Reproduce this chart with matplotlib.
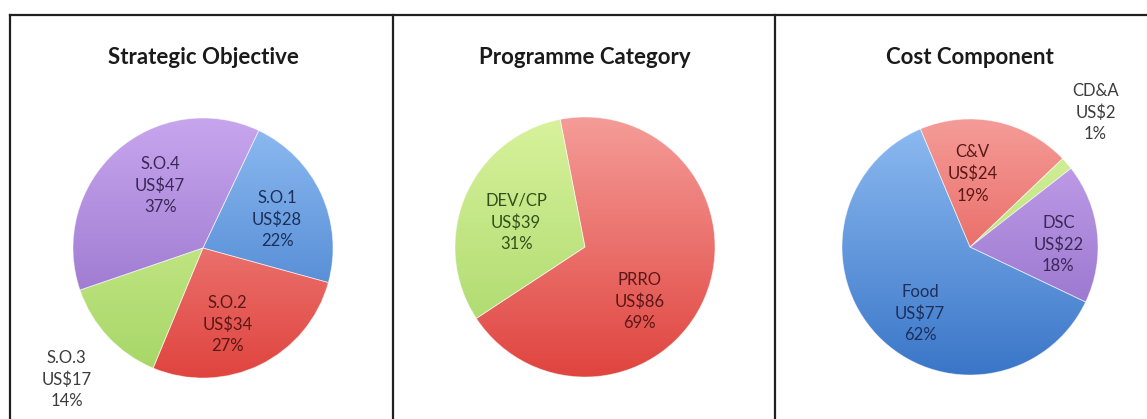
import numpy as np
import matplotlib
matplotlib.use("Agg")
import matplotlib.pyplot as plt
from matplotlib.colors import LinearSegmentedColormap
from matplotlib.lines import Line2D

# ---- data -------------------------------------------------------------
so_labels = ["S.O.1", "S.O.2", "S.O.3", "S.O.4"]
so_values = [28, 34, 17, 47]
so_pct = [22, 27, 14, 37]

pc_labels = ["PRRO", "DEV/CP"]
pc_values = [86, 39]
pc_pct = [69, 31]

cc_labels = ["C&V", "CD&A", "DSC", "Food"]
cc_values = [24, 2, 22, 77]
cc_pct = [19, 1, 18, 62]

titles = ["Strategic Objective", "Programme Category", "Cost Component"]

# ---- styling ----------------------------------------------------------
W, H = 1147, 419
FONT = ["Lato", "DejaVu Sans"]
plt.rcParams["font.family"] = FONT

# (top, bottom) gradient colours per hue
GRAD = {
    "blue": ("#8fbcf2", "#3a76c8"),
    "red": ("#f59c98", "#e0443f"),
    "green": ("#d8f29c", "#a6d666"),
    "purple": ("#c8a6ee", "#8c68c4"),
}
TXT = {
    "blue": "#1d2f5a",
    "red": "#5a1816",
    "green": "#34501a",
    "purple": "#3a2858",
    "out": "#3c3c3c",
}

panels = [
    dict(title=titles[0], labels=so_labels, values=so_values, pct=so_pct,
         hues=["blue", "red", "green", "purple"], start=64.6,
         cx=203, cy=248, r=130,
         text_pos=[(0.57, 0.22), (0.19, -0.59), (-1.05, -1.01), (-0.33, 0.48)],
         text_col=["blue", "red", "out", "purple"]),
    dict(title=titles[1], labels=pc_labels, values=pc_values, pct=pc_pct,
         hues=["red", "green"], start=101.0,
         cx=585, cy=247, r=130,
         text_pos=[(0.42, -0.42), (-0.53, 0.19)],
         text_col=["red", "green"]),
    dict(title=titles[2], labels=cc_labels, values=cc_values, pct=cc_pct,
         hues=["red", "green", "purple", "blue"], start=112.8,
         cx=970, cy=247, r=128,
         text_pos=[(0.02, 0.57), (0.98, 1.05), (0.69, 0.02), (-0.39, -0.52)],
         text_col=["red", "out", "purple", "blue"]),
]

fig = plt.figure(figsize=(W / 100, H / 100), dpi=100)
fig.patch.set_facecolor("white")

half = 190
for p in panels:
    cx, cy, r = p["cx"], p["cy"], p["r"]
    ax = fig.add_axes([(cx - half) / W, 0, 2 * half / W, 1])
    wedges, _ = ax.pie(p["values"], startangle=p["start"], counterclock=False,
                       radius=1.0, center=(0, 0),
                       wedgeprops=dict(linewidth=0.6, edgecolor=(1, 1, 1, 0.5)))
    grad = np.linspace(0, 1, 256).reshape(-1, 1)
    for w, hue in zip(wedges, p["hues"]):
        top, bot = GRAD[hue]
        cmap = LinearSegmentedColormap.from_list(hue, [top, bot])
        w.set_facecolor("none")
        im = ax.imshow(grad, cmap=cmap, extent=(-1, 1, -1, 1), origin="upper",
                       aspect="auto", interpolation="bilinear", zorder=0.5)
        im.set_clip_path(w)

    ax.set_aspect("auto")
    ax.set_xlim(-half / r, half / r)
    yb = H - cy
    ax.set_ylim(-yb / r, (H - yb) / r)
    ax.axis("off")

    for lab, val, pc, (tx, ty), col in zip(p["labels"], p["values"], p["pct"],
                                           p["text_pos"], p["text_col"]):
        ax.text(tx, ty, f"{lab}\nUS${val}\n{pc}%", ha="center", va="center",
                fontsize=12, color=TXT[col], linespacing=1.4, zorder=3)

    fig.text(cx / W, 1 - 58 / H, p["title"], ha="center", va="center",
             fontsize=16, fontweight="bold", color="#1a1a1a")

# frame lines around the panels
lc = "#202020"
lw = 1.6
y_top = 1 - 15 / H
fig.add_artist(Line2D([10 / W, 1], [y_top, y_top], color=lc, lw=lw))
for x in (10, 393, 775):
    fig.add_artist(Line2D([x / W, x / W], [0, y_top], color=lc, lw=lw))

fig.savefig("out.png", dpi=100, facecolor="white")
